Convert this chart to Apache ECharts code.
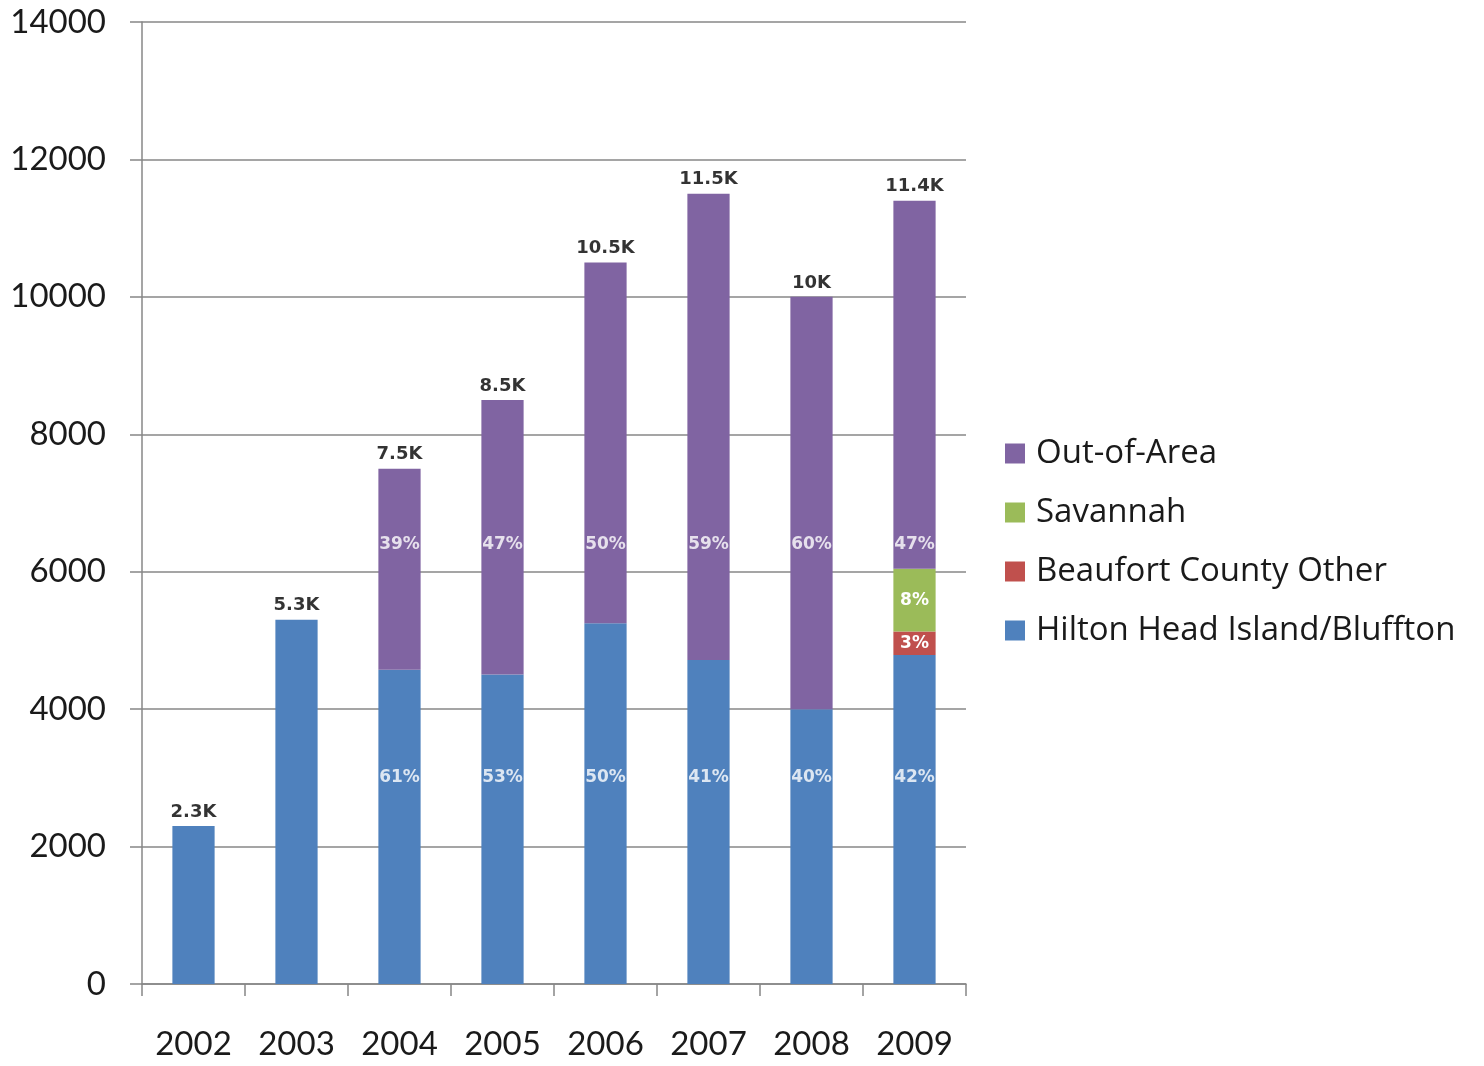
<!DOCTYPE html>
<html>
<head>
<meta charset="utf-8">
<title>Visitors by origin, 2002–2009</title>
<script src="https://cdn.jsdelivr.net/npm/echarts@6/dist/echarts.min.js"></script>
<style>
  html, body { margin: 0; padding: 0; background: #ffffff; }
  #chart { width: 1484px; height: 1066px; }
</style>
</head>
<body>
<div id="chart"></div>
<script>
// Years on the category axis
const years = ['2002', '2003', '2004', '2005', '2006', '2007', '2008', '2009'];

// Yearly totals
const totals = [2300, 5300, 7500, 8500, 10500, 11500, 10000, 11400];

// Share of each year's total by origin (percent); null where not reported
const hiltonPct   = [100, 100, 61, 53, 50, 41, 40, 42];
const beaufortPct = [null, null, null, null, null, null, null, 3];
const savannahPct = [null, null, null, null, null, null, null, 8];
const outPct      = [null, null, 39, 47, 50, 59, 60, 47];

// Percent labels shown on the bars (2002 and 2003 carry none)
const hiltonLabels = [null, null, '61%', '53%', '50%', '41%', '40%', '42%'];
const outLabels    = [null, null, '39%', '47%', '50%', '59%', '60%', '47%'];

// Y axis ticks
const yMin = 0, yMax = 14000, yStep = 2000;

const seriesNames = ['Hilton Head Island/Bluffton', 'Beaufort County Other', 'Savannah', 'Out-of-Area'];
const colors = ['#4F81BD', '#C0504D', '#9BBB59', '#8064A2'];

function segment(pcts) {
  return pcts.map((p, i) => (p == null ? 0 : totals[i] * p / 100));
}

// Fixed heights at which the Hilton and Out-of-Area shares are printed
const lowerLabelLevel = 3000;
const upperLabelLevel = 6400;

function levelLabels(texts, level) {
  return texts.map((t, i) => (t == null ? null : { value: [i, level], name: t }));
}

const chart = echarts.init(document.getElementById('chart'), null, { renderer: 'canvas' });

function barLabel(color, position, size, formatter) {
  return {
    show: true,
    position: position,
    distance: 5,
    color: color,
    fontFamily: 'DejaVu Sans',
    fontWeight: 'bold',
    fontSize: size,
    textBorderWidth: 0,
    formatter: formatter
  };
}

const pctFormatter = (pcts) => (p) => (pcts[p.dataIndex] == null ? '' : pcts[p.dataIndex] + '%');

const option = {
  animation: false,
  backgroundColor: '#ffffff',
  grid: { left: 142, right: 518, top: 22, bottom: 82, containLabel: false },
  legend: {
    orient: 'vertical',
    left: 1000,
    top: 432,
    itemWidth: 20,
    itemHeight: 20,
    itemGap: 26,
    icon: 'rect',
    data: ['Out-of-Area', 'Savannah', 'Beaufort County Other', 'Hilton Head Island/Bluffton'],
    textStyle: { fontFamily: 'Open Sans', fontSize: 33, color: '#1a1a1a', padding: [0, 0, 0, 6] }
  },
  xAxis: {
    type: 'category',
    data: years,
    boundaryGap: true,
    axisLine: { lineStyle: { color: '#878787', width: 1.5 } },
    axisTick: { show: true, length: 12, alignWithLabel: false, lineStyle: { color: '#878787', width: 1.5 } },
    axisLabel: { margin: 44, fontFamily: 'Lato', fontSize: 33, color: '#1a1a1a' }
  },
  yAxis: {
    type: 'value',
    min: yMin,
    max: yMax,
    interval: yStep,
    axisLine: { show: true, lineStyle: { color: '#878787', width: 1.5 } },
    axisTick: { show: true, length: 12, lineStyle: { color: '#878787', width: 1.5 } },
    axisLabel: { margin: 36, fontFamily: 'Lato', fontSize: 33, color: '#1a1a1a', formatter: (v) => String(v) },
    splitLine: { show: true, lineStyle: { color: '#878787', width: 1.5 } }
  },
  series: [
    {
      name: seriesNames[0], type: 'bar', stack: 'total', barWidth: '41%',
      itemStyle: { color: colors[0] },
      data: segment(hiltonPct)
    },
    {
      name: seriesNames[1], type: 'bar', stack: 'total',
      itemStyle: { color: colors[1] },
      label: barLabel('#ffffff', 'inside', 17, pctFormatter(beaufortPct)),
      data: segment(beaufortPct)
    },
    {
      name: seriesNames[2], type: 'bar', stack: 'total',
      itemStyle: { color: colors[2] },
      label: barLabel('#ffffff', 'inside', 17, pctFormatter(savannahPct)),
      data: segment(savannahPct)
    },
    {
      name: seriesNames[3], type: 'bar', stack: 'total',
      itemStyle: { color: colors[3] },
      data: segment(outPct)
    },
    {
      // Hilton Head share, printed low in each bar
      type: 'scatter', symbolSize: 0, silent: true, z: 5,
      label: barLabel('#ffffff', 'inside', 17, (p) => p.name),
      data: levelLabels(hiltonLabels, lowerLabelLevel)
    },
    {
      // Out-of-Area share, printed at a common height
      type: 'scatter', symbolSize: 0, silent: true, z: 5,
      label: barLabel('#ffffff', 'inside', 17, (p) => p.name),
      data: levelLabels(outLabels, upperLabelLevel)
    },
    {
      // Yearly total above each bar
      type: 'scatter', symbolSize: 0, silent: true, z: 5,
      label: barLabel('#000000', 'top', 18, (p) => (p.value[1] / 1000) + 'K'),
      data: totals.map((t, i) => [i, t])
    }
  ]
};

chart.setOption(option);
</script>
</body>
</html>
